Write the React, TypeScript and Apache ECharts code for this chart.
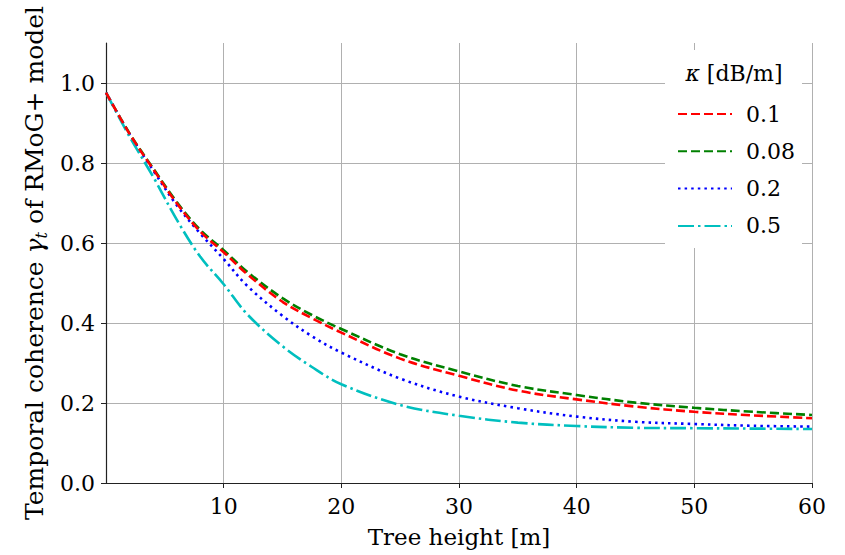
import React, { useEffect, useRef } from "react";
import * as echarts from "echarts";

const heights = [0, 2, 4, 6, 8, 10, 12, 15, 17.5, 20, 25, 30, 35, 40, 45, 50, 55, 60];
const kappa01 = [0.976, 0.873, 0.785, 0.7, 0.629, 0.577, 0.522, 0.453, 0.412, 0.376, 0.311, 0.268, 0.231, 0.209, 0.191, 0.178, 0.169, 0.162];
const kappa008 = [0.976, 0.874, 0.787, 0.703, 0.633, 0.582, 0.528, 0.462, 0.42, 0.385, 0.322, 0.279, 0.2425, 0.22, 0.201, 0.188, 0.178, 0.17];
const kappa02 = [0.976, 0.872, 0.782, 0.695, 0.624, 0.56, 0.493, 0.418, 0.367, 0.326, 0.261, 0.216, 0.187, 0.166, 0.153, 0.1475, 0.143, 0.141];
const kappa05 = [0.976, 0.866, 0.766, 0.659, 0.566, 0.497, 0.422, 0.342, 0.29, 0.247, 0.195, 0.168, 0.151, 0.1425, 0.138, 0.137, 0.136, 0.135];
const seriesNames = ["0.1", "0.08", "0.2", "0.5"];
const xTicks = [10, 20, 30, 40, 50, 60];
const yTicks = [0, 0.2, 0.4, 0.6, 0.8, 1.0];

const FONT = "DejaVu Serif";

export default function App() {
  const ref = useRef<HTMLDivElement>(null);
  useEffect(() => {
    const chart = echarts.init(ref.current!, null, { renderer: "svg" });
    const values = [kappa01, kappa008, kappa02, kappa05];
    const colors = ["#ff0000", "#008000", "#0000ff", "#00bfbf"];
    const dashes: any[] = [[9, 4], [9, 4], [2.5, 4.1], [16, 4, 2.5, 4]];
    const series = values.map((v, i) => ({
      name: seriesNames[i],
      type: "line",
      data: heights.map((h, j) => [h, v[j]]),
      smooth: 0.35,
      symbol: "none",
      color: colors[i],
      lineStyle: { color: colors[i], width: 2.6, type: dashes[i], cap: "butt" },
      z: 2 + (i === 0 ? 1 : 0),
    }));
    chart.setOption({
      animation: false,
      backgroundColor: "#ffffff",
      grid: { left: 106, right: 33, top: 43, bottom: 72 },
      xAxis: {
        type: "value",
        min: 0,
        max: 60,
        interval: 10,
        name: "Tree height [m]",
        nameLocation: "middle",
        nameGap: 42,
        nameTextStyle: { fontFamily: FONT, fontSize: 23, color: "#000" },
        axisLine: { show: true, onZero: false, lineStyle: { color: "#222", width: 1.2 } },
        axisTick: { show: true, length: 5, customValues: xTicks, lineStyle: { color: "#222" } },
        axisLabel: { customValues: xTicks, margin: 12, fontFamily: FONT, fontSize: 22, color: "#000" },
        splitLine: { show: true, lineStyle: { color: "#b0b0b0", width: 1 } },
      },
      yAxis: {
        type: "value",
        min: 0,
        max: 1.1,
        interval: 0.2,
        name: "Temporal coherence {g|γ}{s|t} of RMoG+ model",
        nameLocation: "middle",
        nameGap: 56,
        nameTextStyle: {
          fontFamily: FONT,
          fontSize: 25,
          color: "#000",
          rich: {
            g: { fontFamily: FONT, fontSize: 25, fontStyle: "italic", color: "#000" },
            s: { fontFamily: FONT, fontSize: 16, fontStyle: "italic", color: "#000", padding: [13, 0, 0, 0] },
          },
        },
        axisLine: { show: true, lineStyle: { color: "#222", width: 1.2 } },
        axisTick: { show: true, length: 5, customValues: yTicks, lineStyle: { color: "#222" } },
        axisLabel: {
          customValues: yTicks,
          margin: 11,
          fontFamily: FONT,
          fontSize: 22,
          color: "#000",
          formatter: (v: number) => v.toFixed(1),
        },
        splitLine: { show: true, lineStyle: { color: "#b0b0b0", width: 1 } },
      },
      legend: {
        orient: "vertical",
        left: 672,
        top: 97,
        itemWidth: 54,
        itemHeight: 12,
        itemGap: 13.3,
        data: seriesNames,
        itemStyle: { opacity: 0 },
        textStyle: { fontFamily: FONT, fontSize: 22, color: "#000", lineHeight: 24, padding: [0, 0, 0, 9] },
        z: 6,
      },
      graphic: [
        {
          type: "rect",
          z: 4,
          shape: { x: 665, y: 50, width: 137, height: 198 },
          style: { fill: "#ffffff" },
        },
        {
          type: "text",
          z: 7,
          x: 734,
          y: 73,
          style: {
            text: "{k|κ} [dB/m]",
            fontFamily: FONT,
            fontSize: 22,
            fill: "#000",
            align: "center",
            verticalAlign: "middle",
            rich: { k: { fontFamily: FONT, fontSize: 22, fontStyle: "italic", fill: "#000" } },
          },
        },
      ],
      series,
    });
    return () => chart.dispose();
  }, []);
  return (
    <div
      ref={ref}
      style={{ position: "fixed", left: 0, top: 0, width: 845, height: 555 }}
    />
  );
}
